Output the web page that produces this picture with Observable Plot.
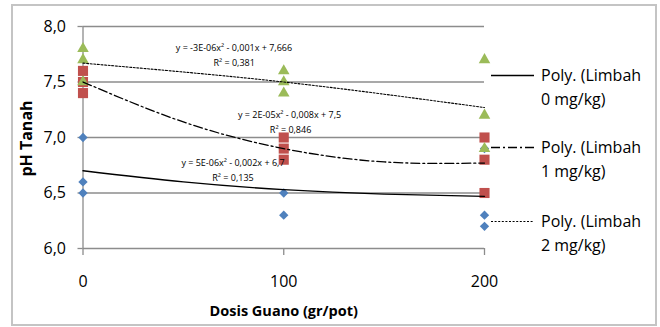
<!DOCTYPE html>
<html>
<head>
<meta charset="utf-8">
<script src="https://cdn.jsdelivr.net/npm/d3@7"></script>
<script src="https://cdn.jsdelivr.net/npm/@observablehq/plot@0.6"></script>
<style>
  html, body { margin: 0; padding: 0; background: #fff; }
  #wrap { position: relative; width: 660px; height: 327px; overflow: hidden; background: #fff; font-family: "Open Sans", sans-serif; }
  #frame { position: absolute; left: 11px; top: 4px; width: 642px; height: 318px; border: 2px solid #c4c4c4; box-sizing: content-box; }
  #chart { position: absolute; left: 0; top: 0; }
  .leg { position: absolute; left: 491px; width: 160px; }
  .leg svg { position: absolute; left: 0; top: 0; }
  .leg .txt { position: absolute; left: 50px; top: 0; font-size: 16px; line-height: 24px; color: #000; white-space: nowrap; }
</style>
</head>
<body>
<div id="wrap">
  <div id="frame"></div>
  <div id="chart"></div>
  <div id="legend"></div>
</div>
<script>
// ---- data ----
const doses = [0, 0, 0, 100, 100, 100, 200, 200, 200];
const limbah0 = [7.0, 6.6, 6.5, 6.8, 6.5, 6.3, 6.9, 6.3, 6.2];
const limbah1 = [7.6, 7.5, 7.4, 7.0, 6.9, 6.8, 7.0, 6.8, 6.5];
const limbah2 = [7.8, 7.7, 7.5, 7.6, 7.5, 7.4, 7.7, 7.2, 6.9];

// trendline values
const trendX = [0, 50, 100, 150, 200];
const trend0 = [6.70, 6.60, 6.53, 6.49, 6.47];
const trend1 = [7.50, 7.14, 6.90, 6.78, 6.77];
const trend2 = [7.67, 7.59, 7.50, 7.39, 7.27];

// equation labels
const eqText = [
  "y = -3E-06x² - 0,001x + 7,666", "R² = 0,381",
  "y = 2E-05x² - 0,008x + 7,5", "R² = 0,846",
  "y = 5E-06x² - 0,002x + 6,7", "R² = 0,135"
];
const eqX = [75.2, 75.3, 102.9, 103.4, 74.7, 74.7];
const eqY = [7.805, 7.673, 7.198, 7.069, 6.768, 6.637];

const yTicks = [6, 6.5, 7, 7.5, 8];
const xTicks = [0, 100, 200];
const legendLabels = ["Poly. (Limbah\n0 mg/kg)", "Poly. (Limbah\n1 mg/kg)", "Poly. (Limbah\n2 mg/kg)"];

// ---- styles ----
const blue = "#4F81BD", red = "#C0504D", green = "#9BBB59";
const gridColor = "#8c8c8c";
const dash1 = "9,3,2,3";
const dash2 = "2,1.6";
const fmt = d => d.toFixed(1).replace(".", ",");

const pts = ys => ys.map((v, i) => ({x: doses[i], y: v}));
const trend = ys => trendX.map((x, i) => ({x, y: ys[i]}));
const eqs = eqText.map((t, i) => ({t, x: eqX[i], y: eqY[i]}));

const chart = Plot.plot({
  width: 660,
  height: 327,
  marginLeft: 82.5,
  marginRight: 176,
  marginTop: 26,
  marginBottom: 79,
  x: {domain: [0, 200]},
  y: {domain: [6, 8]},
  style: {fontFamily: '"Open Sans", sans-serif', background: "transparent", color: "#000", overflow: "visible"},
  marks: [
    Plot.gridY(yTicks, {stroke: gridColor, strokeOpacity: 1, strokeWidth: 1.3}),
    Plot.ruleX([0], {stroke: gridColor, strokeWidth: 1.3}),
    Plot.axisY(yTicks, {tickSize: 5, tickPadding: 12, tickFormat: fmt, stroke: gridColor, strokeWidth: 1.3, fontSize: 16, label: null}),
    Plot.axisX(xTicks, {tickSize: 7, tickPadding: 20, stroke: gridColor, strokeWidth: 1.3, fontSize: 16, label: null}),
    Plot.dot(pts(limbah0), {x: "x", y: "y", symbol: "diamond2", r: 4.2, fill: blue, stroke: "none"}),
    Plot.dot(pts(limbah1), {x: "x", y: "y", symbol: "square", r: 5.7, fill: red, stroke: "none"}),
    Plot.dot(pts(limbah2), {x: "x", y: "y", symbol: "triangle", r: 4.3, fill: green, stroke: "none"}),
    Plot.line(trend(trend0), {x: "x", y: "y", curve: "natural", stroke: "#000", strokeWidth: 1.4}),
    Plot.line(trend(trend1), {x: "x", y: "y", curve: "natural", stroke: "#000", strokeWidth: 1.3, strokeDasharray: dash1}),
    Plot.line(trend(trend2), {x: "x", y: "y", curve: "natural", stroke: "#000", strokeWidth: 1.1, strokeDasharray: dash2}),
    Plot.text(eqs, {x: "x", y: "y", text: "t", fontSize: 9, fill: "#000"}),
    Plot.text(["pH Tanah"], {frameAnchor: "left", textAnchor: "middle", lineAnchor: "middle", rotate: -90, dx: -56, dy: 1, fontWeight: "bold", fontSize: 16}),
    Plot.text(["Dosis Guano (gr/pot)"], {frameAnchor: "bottom", textAnchor: "middle", lineAnchor: "middle", dy: 63, fontWeight: "bold", fontSize: 14.5})
  ]
});
document.getElementById("chart").appendChild(chart);

// ---- legend ----
const legTops = [75, 147, 221];
const legDash = [null, dash1, dash2];
const legWidth = [1.4, 1.3, 1.1];
const legend = document.getElementById("legend");
legendLabels.forEach((lab, i) => {
  const d = document.createElement("div");
  d.className = "leg";
  d.style.top = (legTops[i] - 12) + "px";
  const svg = d3.create("svg").attr("width", 46).attr("height", 24);
  svg.append("line").attr("x1", 0).attr("x2", 43).attr("y1", 12.5).attr("y2", 12.5)
    .attr("stroke", "#000").attr("stroke-width", legWidth[i])
    .attr("stroke-dasharray", legDash[i]);
  d.appendChild(svg.node());
  const t = document.createElement("div");
  t.className = "txt";
  t.innerHTML = lab.split("\n").join("<br>");
  d.appendChild(t);
  legend.appendChild(d);
});
</script>
</body>
</html>
